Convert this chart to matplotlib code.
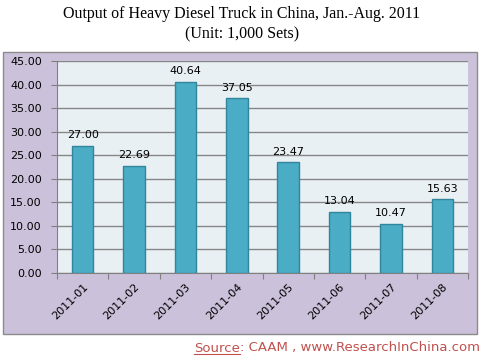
import matplotlib.pyplot as plt
from matplotlib.patches import Rectangle
from matplotlib.lines import Line2D

months = ["2011-01", "2011-02", "2011-03", "2011-04",
          "2011-05", "2011-06", "2011-07", "2011-08"]
output = [27.00, 22.69, 40.64, 37.05, 23.47, 13.04, 10.47, 15.63]
yticks = [0, 5, 10, 15, 20, 25, 30, 35, 40, 45]

W, H = 484, 363
fig = plt.figure(figsize=(W / 100, H / 100), dpi=100)
fig.patch.set_facecolor("white")

# purple chart-area box
fig.patches.append(Rectangle((3 / W, 1 - 334 / H), 474 / W, 282 / H,
                             transform=fig.transFigure, facecolor="#ccc1da",
                             edgecolor="#8c8c8c", linewidth=1.0, zorder=-1))

ax = fig.add_axes([57 / W, 1 - 273 / H, 411 / W, 212 / H])
ax.set_facecolor("#e9f0f4")
x = range(len(months))
ax.bar(x, output, width=0.42, color="#4bacc6", edgecolor="#31859c",
       linewidth=1.0, zorder=3)
for i, v in enumerate(output):
    ax.text(i, v + 1.2, f"{v:.2f}", ha="center", va="bottom", fontsize=8,
            color="black")

ax.set_xlim(-0.5, len(months) - 0.5)
ax.set_ylim(0, 45)
ax.set_yticks(yticks)
ax.set_yticklabels([f"{t:.2f}" for t in yticks], fontsize=8)
ax.set_xticks([i - 0.5 for i in range(len(months) + 1)], minor=False)
ax.set_xticklabels([])
ax.set_xticks(list(x), minor=True)
ax.set_xticklabels(months, minor=True, rotation=45, ha="right",
                   rotation_mode="anchor", fontsize=8)
ax.tick_params(axis="x", which="minor", length=0, pad=6)
ax.tick_params(axis="x", which="major", length=4, color="#808080")
ax.tick_params(axis="y", length=4, color="#808080", pad=7)
ax.yaxis.grid(True, color="#868686", linewidth=1.0, zorder=0)
ax.set_axisbelow(True)
for side in ["top", "right"]:
    ax.spines[side].set_visible(False)
ax.spines["left"].set_color("#808080")
ax.spines["bottom"].set_color("#808080")

fig.text(0.5, 1 - 14 / H, "Output of Heavy Diesel Truck in China, Jan.-Aug. 2011",
         ha="center", va="center", fontsize=11.5, family="Liberation Serif")
fig.text(0.5, 1 - 34 / H, "(Unit: 1,000 Sets)", ha="center", va="center",
         fontsize=11.5, family="Liberation Serif")

red = "#c0504d"
rest = fig.text(480 / W, 1 - 348 / H, ": CAAM , www.ResearchInChina.com",
                ha="right", va="center", fontsize=9.5, color=red)
fig.canvas.draw()
bb = rest.get_window_extent().transformed(fig.transFigure.inverted())
src = fig.text(bb.x0, 1 - 348 / H, "Source", ha="right", va="center",
               fontsize=9.5, color=red)
fig.canvas.draw()
sb = src.get_window_extent().transformed(fig.transFigure.inverted())
fig.lines.append(Line2D([sb.x0, sb.x1], [sb.y0 + 1 / H, sb.y0 + 1 / H],
                        transform=fig.transFigure, color=red, linewidth=0.8))

fig.savefig("out.png", dpi=100)
